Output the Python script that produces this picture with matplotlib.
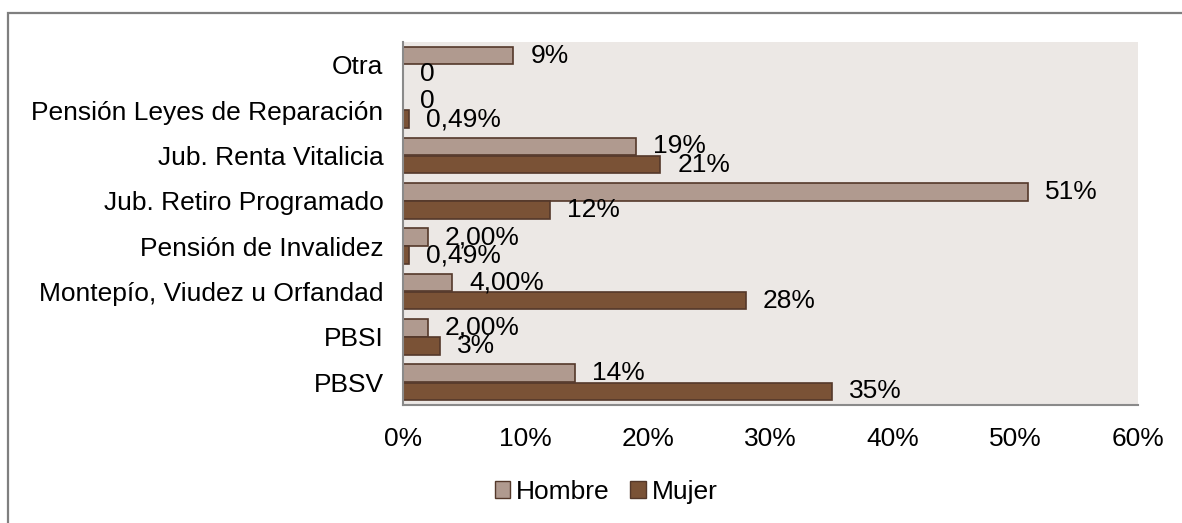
import matplotlib
matplotlib.use("Agg")
import matplotlib.pyplot as plt
from matplotlib.patches import Rectangle, Patch

categories = ["PBSV", "PBSI", "Montepío, Viudez u Orfandad", "Pensión de Invalidez",
              "Jub. Retiro Programado", "Jub. Renta Vitalicia",
              "Pensión Leyes de Reparación", "Otra"]
hombre = [14, 2, 4, 2, 51, 19, 0, 9]
mujer = [35, 3, 28, 0.49, 12, 21, 0.49, 0]
hombre_labels = ["14%", "2,00%", "4,00%", "2,00%", "51%", "19%", "0", "9%"]
mujer_labels = ["35%", "3%", "28%", "0,49%", "12%", "21%", "0,49%", "0"]
xticks = [0, 10, 20, 30, 40, 50, 60]
xtick_labels = ["0%", "10%", "20%", "30%", "40%", "50%", "60%"]

plt.rcParams['font.family'] = ['Liberation Sans', 'DejaVu Sans']
FS = 19

W, H = 1182, 523
fig = plt.figure(figsize=(W / 100, H / 100), dpi=100)
fig.patch.set_facecolor("white")

# outer chart border (top and left visible)
fig.add_artist(Rectangle((8 / W, -0.05), (W - 8) / W + 0.05, (H - 13) / H + 0.05,
                         transform=fig.transFigure, fill=False,
                         edgecolor="#7f7f7f", linewidth=1.6, clip_on=False))

left, right, top, bottom = 403, 1138, 42, 405
ax = fig.add_axes([left / W, 1 - bottom / H, (right - left) / W, (bottom - top) / H])
ax.set_facecolor("#ECE8E5")

c_h = "#B09A8F"
c_m = "#7A5236"
edge = "#54382A"
bh = 0.39
ys = list(range(len(categories)))
ax.barh([y + 0.2 for y in ys], hombre, height=bh, color=c_h, edgecolor=edge, linewidth=1.2)
ax.barh([y - 0.2 for y in ys], mujer, height=bh, color=c_m, edgecolor=edge, linewidth=1.2)

off = 60 * 17 / (right - left)
for y, v, lab in zip(ys, hombre, hombre_labels):
    ax.text(v + off, y + 0.2, lab, va="center", ha="left", fontsize=FS, color="black")
for y, v, lab in zip(ys, mujer, mujer_labels):
    ax.text(v + off, y - 0.2, lab, va="center", ha="left", fontsize=FS, color="black")

ax.set_xlim(0, 60)
ax.set_ylim(-0.5, len(categories) - 0.5)
ax.set_xticks(xticks)
ax.set_xticklabels(xtick_labels, fontsize=FS)
ax.set_yticks(ys)
ax.set_yticklabels(categories, fontsize=FS)
ax.tick_params(axis="both", length=0)
ax.tick_params(axis="x", pad=16)
ax.tick_params(axis="y", pad=14)
for s in ["top", "right"]:
    ax.spines[s].set_visible(False)
for s in ["left", "bottom"]:
    ax.spines[s].set_color("#8a8a8a")
    ax.spines[s].set_linewidth(1.5)

handles = [Patch(facecolor=c_h, edgecolor=edge, label="Hombre"),
           Patch(facecolor=c_m, edgecolor=edge, label="Mujer")]
fig.legend(handles=handles, loc="center", bbox_to_anchor=(606 / W, 1 - 492 / H),
           ncol=2, frameon=False, fontsize=FS, handlelength=0.6, handleheight=0.6,
           handletextpad=0.2, columnspacing=0.8)

fig.savefig("out.png", dpi=100)
